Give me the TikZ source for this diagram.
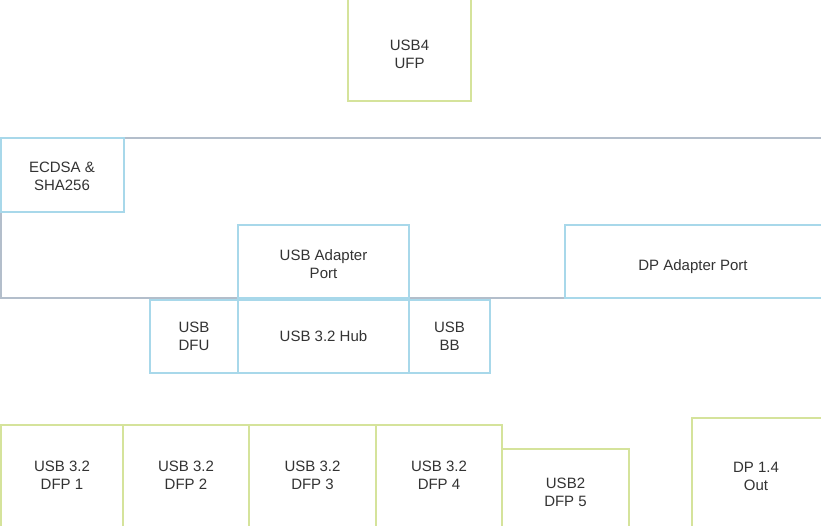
\documentclass[tikz,border=0pt]{standalone}
\usepackage{fontspec}
\setmainfont{Liberation Sans}
\definecolor{gbox}{HTML}{D5E39B}
\definecolor{bbox}{HTML}{A8D8EA}
\definecolor{graybox}{HTML}{B3BECB}
\definecolor{txt}{HTML}{333333}
\begin{document}
\begin{tikzpicture}[x=1pt,y=-1pt,
  lbl/.style={font=\fontsize{15}{18}\selectfont, text=txt, align=center},
  gbx/.style={draw=gbox, line width=1.5pt, fill=white},
  bbx/.style={draw=bbox, line width=1.5pt, fill=white},
  grbx/.style={draw=graybox, line width=1.5pt, fill=white}]
\useasboundingbox (0,0) rectangle (821,526);
\fill[white] (0,0) rectangle (821,526);
% outer gray container
\draw[grbx] (0.75,138) rectangle (824,298);
% USB4 UFP
\draw[gbx] (348,-2) rectangle (471,101);
\node[lbl] (ufp) at (409.5,54) {USB4\\UFP};
% inner boxes
\draw[bbx] (0.75,138) rectangle (124,212);
\node[lbl] (ecdsa) at (62,176) {ECDSA \&\\SHA256};
\draw[bbx] (238,225) rectangle (409,298);
\node[lbl] (uap) at (323.5,264) {USB Adapter\\Port};
\draw[bbx] (565,225) rectangle (824,298);
\node[lbl] (dap) at (693,267) {DP Adapter Port};
% hub row
\draw[bbx] (150,300) rectangle (238,373);
\node[lbl] (dfu) at (194,336) {USB\\DFU};
\draw[bbx] (238,300) rectangle (409,373);
\node[lbl] (hub) at (323.5,336) {USB 3.2 Hub};
\draw[bbx] (409,300) rectangle (490,373);
\node[lbl] (bb) at (449.5,336) {USB\\BB};
% bottom row
\draw[gbx] (0.75,425) rectangle (123,528);
\node[lbl] (d1) at (62,475) {USB 3.2\\DFP 1};
\draw[gbx] (123,425) rectangle (249,528);
\node[lbl] (d2) at (186,475) {USB 3.2\\DFP 2};
\draw[gbx] (249,425) rectangle (376,528);
\node[lbl] (d3) at (312.5,475) {USB 3.2\\DFP 3};
\draw[gbx] (376,425) rectangle (502,528);
\node[lbl] (d4) at (439,475) {USB 3.2\\DFP 4};
\draw[gbx] (502,449) rectangle (629,528);
\node[lbl] (d5) at (565.5,492) {USB2\\DFP 5};
\draw[gbx] (692,418) rectangle (824,528);
\node[lbl] (dp) at (756,476) {DP 1.4\\Out};
\end{tikzpicture}
\end{document}
